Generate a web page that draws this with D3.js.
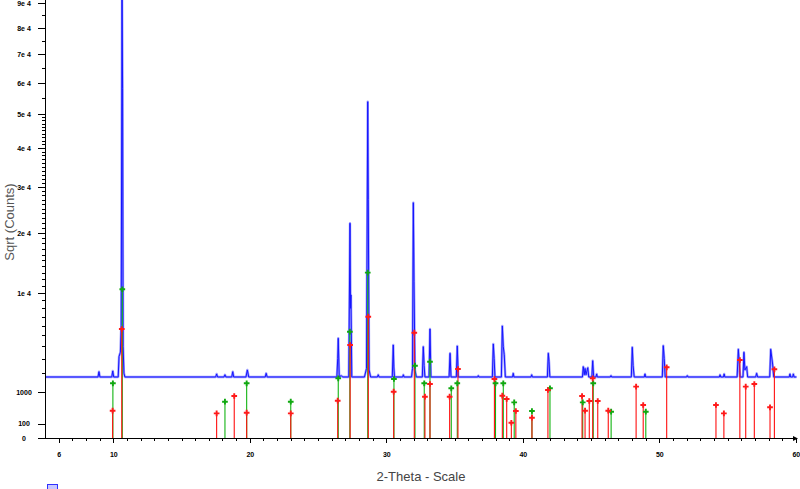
<!DOCTYPE html>
<html>
<head>
<meta charset="utf-8">
<script src="https://cdn.jsdelivr.net/npm/d3@7"></script>
<style>
  html, body { margin: 0; padding: 0; background: #ffffff; }
  svg { display: block; }
</style>
</head>
<body>
<svg id="chart" width="800" height="489"></svg>
<script>
// ---------- DATA ----------
// measured XRD pattern: [2-theta, counts]
const patternPoints = [
  [5.07,1770],
  [8.88,1770],[8.95,2090],[9.02,1770],
  [9.89,1770],[9.96,2135],[10.03,1770],
  [10.36,1770],[10.42,3150],[10.52,3500],[10.58,6000],[10.64,96000],[10.68,58000],[10.72,4000],[10.78,2000],[10.85,1770],
  [17.50,1770],[17.57,1950],[17.64,1770],
  [18.11,1770],[18.18,1900],[18.25,1770],
  [18.68,1770],[18.75,2090],[18.82,1770],
  [19.72,1770],[19.82,2200],[19.92,1770],
  [21.13,1770],[21.20,1990],[21.27,1770],
  [26.38,1770],[26.44,3000],[26.48,4730],[26.55,1770],[26.70,1850],[26.80,1770],
  [27.25,1770],[27.34,21930],[27.38,8000],[27.41,9725],[27.47,1770],
  [28.40,1770],[28.55,2300],[28.64,53790],[28.66,40000],[28.68,27000],[28.74,2200],[28.85,1770],
  [29.35,1770],[29.41,1900],[29.47,1770],
  [30.44,1770],[30.51,4113],[30.55,2400],[30.60,1770],
  [31.20,1770],[31.25,1900],[31.30,1770],
  [31.85,1770],[31.92,2300],[31.98,26330],[32.03,11620],[32.10,2200],[32.20,1770],
  [32.64,1770],[32.71,3966],[32.77,2500],[32.83,1770],
  [33.13,1770],[33.20,5650],[33.27,1770],
  [34.60,1770],[34.67,3411],[34.74,1770],
  [35.13,1770],[35.20,4025],[35.27,1770],
  [36.70,1770],[36.74,1850],[36.78,1770],
  [37.77,1770],[37.84,4200],[37.90,3000],[37.96,1770],
  [38.43,1770],[38.50,5967],[38.57,3966],[38.64,3300],[38.72,1770],
  [39.25,1770],[39.30,1990],[39.35,1770],
  [40.60,1770],[40.65,1900],[40.70,1770],
  [41.80,1770],[41.87,3411],[41.92,2800],[41.98,1770],
  [44.37,1770],[44.43,2420],[44.50,1900],[44.56,2300],[44.63,1900],[44.76,2350],[44.83,1770],
  [45.06,1770],[45.12,2840],[45.19,1770],
  [45.36,1770],[45.41,1950],[45.46,1770],
  [46.41,1770],[46.46,1850],[46.51,1770],
  [47.95,1770],[48.02,3913],[48.08,2500],[48.16,1770],
  [48.90,1770],[48.95,1950],[49.00,1770],
  [50.22,1770],[50.29,4054],[50.36,3000],[50.43,1770],
  [52.00,1770],[52.05,1850],[52.10,1770],
  [54.40,1770],[54.45,1900],[54.50,1770],[54.70,1770],[54.75,1950],[54.80,1770],
  [55.70,1770],[55.79,3742],[55.86,2600],[55.92,1770],
  [56.13,1770],[56.20,3494],[56.27,2200],[56.40,2420],[56.47,1770],
  [57.06,1770],[57.13,1990],[57.20,1770],
  [58.09,1770],[58.16,3742],[58.30,2600],[58.38,1770],
  [59.52,1770],[59.57,1950],[59.62,1770],[59.77,1770],[59.82,1950],[59.87,1770],
  [60.05,1770]
];

// reference pattern 1 (green sticks): [2-theta, intensity]
const phaseGreen = [
  [9.97,1423],[10.66,10520],[18.18,627],[19.77,1423],[23.00,627],
  [26.48,1696],[27.33,5375],[28.64,13000],[30.56,1656],[32.10,2486],
  [32.78,1423],[33.20,2768],[34.76,1174],[35.20,1423],[38.00,1423],
  [38.57,1423],[39.37,605],[40.67,347],[41.99,1174],[44.39,605],
  [45.16,1423],[46.47,329],[49.01,329]
];

// reference pattern 2 (red sticks): [2-theta, intensity]
const phaseRed = [
  [9.95,354],[10.62,5650],[17.57,289],[18.86,839],[19.77,304],
  [23.00,289],[26.44,661],[27.35,4113],[28.68,7000],[30.54,1020],
  [32.05,5275],[32.83,812],[33.20,1387],[34.64,812],[35.25,2264],
  [37.92,1656],[38.50,851],[38.82,723],[39.16,111],[39.49,347],
  [40.67,196],[41.84,1096],[44.34,839],[44.56,354],[44.87,651],
  [45.12,1696],[45.49,651],[46.26,354],[48.30,1253],[48.82,518],
  [50.54,2377],[54.15,518],[54.73,289],[55.90,2894],[56.33,1253],
  [56.96,1387],[58.11,448],[58.43,2245]
];

const xTickValues = [6, 10, 20, 30, 40, 50, 60];
const xTickLabels = ["6", "10", "20", "30", "40", "50", "60"];
const yTickValues = [0, 100, 1000, 10000, 20000, 30000, 40000, 50000, 60000, 70000, 80000, 90000];
const yTickLabels = ["0", "100", "1000", "1e 4", "2e 4", "3e 4", "4e 4", "5e 4", "6e 4", "7e 4", "8e 4", "9e 4"];
const xTitle = "2-Theta - Scale";
const yTitle = "Sqrt (Counts)";

// ---------- LAYOUT ----------
const svg = d3.select("#chart");
const axisLeftX = 46, axisBottomY = 438;
const x = d3.scaleLinear().domain([5.07, 60.05]).range([axisLeftX, 796.5]);
const y = d3.scaleSqrt().domain([0, 90000]).range([axisBottomY, 3]);

svg.append("rect").attr("width", 800).attr("height", 489).attr("fill", "#ffffff");

svg.append("defs").append("clipPath").attr("id", "plotClip")
  .append("rect").attr("x", axisLeftX).attr("y", 0).attr("width", 800 - axisLeftX).attr("height", axisBottomY);

const plot = svg.append("g").attr("clip-path", "url(#plotClip)");

// measured pattern line
const line = d3.line().x(d => x(d[0])).y(d => y(d[1]));
plot.append("path").datum(patternPoints)
  .attr("d", line).attr("fill", "none")
  .attr("stroke", "#9c9cff").attr("stroke-width", 2.4).attr("stroke-linejoin", "round");
plot.append("path").datum(patternPoints)
  .attr("d", line).attr("fill", "none")
  .attr("stroke", "#1414ff").attr("stroke-width", 1);

// sticks
function drawSticks(data, color) {
  plot.append("g").selectAll("line").data(data).join("line")
    .attr("x1", d => x(d[0])).attr("x2", d => x(d[0]))
    .attr("y1", y(0)).attr("y2", d => y(d[1]))
    .attr("stroke", color).attr("stroke-width", 1.1);
}
function drawMarkers(data, color) {
  const sym = d3.symbol().type(d3.symbolCross).size(18);
  plot.append("g").selectAll("path").data(data).join("path")
    .attr("d", sym)
    .attr("transform", d => `translate(${x(d[0])},${y(d[1])})`)
    .attr("fill", color);
}
drawSticks(phaseGreen, "#12b412");
drawSticks(phaseRed, "#ff1010");
drawMarkers(phaseGreen, "#10a810");
drawMarkers(phaseRed, "#ff1a1a");

// ---------- AXES ----------
const tickFont = "bold 7px 'Liberation Sans', Arial, sans-serif";

// x minor ticks
const xMinor = svg.append("g").attr("transform", `translate(0,${axisBottomY})`)
  .call(d3.axisBottom(x).tickValues(d3.range(6, 61)).tickSize(3).tickFormat(""));
xMinor.select(".domain").remove();
// x major ticks with labels
const xMajor = svg.append("g").attr("transform", `translate(0,${axisBottomY})`)
  .call(d3.axisBottom(x).tickValues(xTickValues).tickSize(5).tickPadding(9)
    .tickFormat((d, i) => xTickLabels[i]));
xMajor.select(".domain").remove();
xMajor.selectAll("text").style("font", tickFont).attr("fill", "#000");

// x-axis line with arrow
svg.append("line").attr("x1", axisLeftX).attr("x2", 797).attr("y1", axisBottomY + 0.5).attr("y2", axisBottomY + 0.5)
  .attr("stroke", "#000").attr("stroke-width", 1);
svg.append("path").attr("d", `M793,${axisBottomY - 2} L798,${axisBottomY + 0.5} L793,${axisBottomY + 3} Z`).attr("fill", "#000");

// y minor ticks
const yMinorVals = d3.range(2000, 50000, 1000).filter(v => v % 10000 !== 0).concat([55000, 65000, 75000, 85000]);
const yMinor = svg.append("g").attr("transform", `translate(${axisLeftX},0)`)
  .call(d3.axisLeft(y).tickValues(yMinorVals).tickSize(4).tickFormat(""));
yMinor.select(".domain").remove();
// y major ticks with labels
const yMajor = svg.append("g").attr("transform", `translate(${axisLeftX},0)`)
  .call(d3.axisLeft(y).tickValues(yTickValues).tickSize(8)
    .tickFormat((d, i) => yTickLabels[i]));
yMajor.select(".domain").remove();
yMajor.selectAll("text").style("font", tickFont).attr("fill", "#000")
  .attr("text-anchor", "middle").attr("x", -22);

svg.selectAll(".tick line").attr("stroke", "#000").attr("stroke-width", 1).attr("shape-rendering", "crispEdges");

// y-axis line
svg.append("line").attr("x1", axisLeftX - 0.5).attr("x2", axisLeftX - 0.5).attr("y1", 0).attr("y2", axisBottomY + 1)
  .attr("stroke", "#000").attr("stroke-width", 1);

// titles
svg.append("text").attr("x", 421).attr("y", 481).attr("text-anchor", "middle")
  .style("font", "13px 'Liberation Sans', Arial, sans-serif").attr("fill", "#444").text(xTitle);
svg.append("text").attr("transform", "translate(14,222) rotate(-90)").attr("text-anchor", "middle")
  .style("font", "13px 'Liberation Sans', Arial, sans-serif").attr("fill", "#555").text(yTitle);

// legend swatch (partially visible)
svg.append("rect").attr("x", 47.5).attr("y", 484.5).attr("width", 10).attr("height", 6)
  .attr("fill", "#c8c8ff").attr("stroke", "#3030ff").attr("stroke-width", 1);
</script>
</body>
</html>
